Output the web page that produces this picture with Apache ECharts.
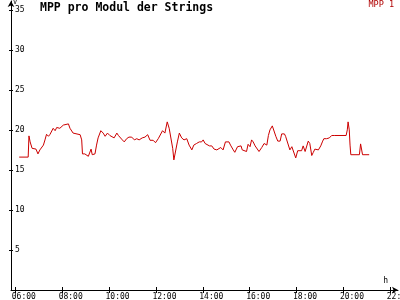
<!DOCTYPE html>
<html>
<head>
<meta charset="utf-8">
<style>html,body{margin:0;padding:0;background:#fff}#c{width:400px;height:300px}</style>
<script src="https://cdn.jsdelivr.net/npm/echarts@6/dist/echarts.min.js"></script>
</head>
<body>
<div id="c"></div>
<script>
const times = ["06:10","06:33","06:35","06:38","06:43","06:53","06:58","07:03","07:12","07:16","07:20","07:25","07:29","07:37","07:42","07:46","07:54","08:03","08:07","08:16","08:20","08:24","08:28","08:33","08:46","08:50","08:52","08:58","09:07","09:14","09:17","09:24","09:28","09:32","09:39","09:45","09:50","09:56","10:02","10:07","10:13","10:20","10:24","10:28","10:34","10:39","10:45","10:51","10:58","11:05","11:11","11:17","11:25","11:32","11:39","11:45","11:53","11:59","12:06","12:10","12:17","12:23","12:29","12:34","12:39","12:43","12:46","12:51","12:55","13:00","13:06","13:12","13:19","13:25","13:32","13:37","13:44","13:51","13:57","14:01","14:06","14:10","14:17","14:23","14:29","14:36","14:40","14:46","14:52","14:58","15:03","15:07","15:11","15:18","15:22","15:29","15:33","15:38","15:41","15:46","15:52","15:56","16:01","16:05","16:09","16:14","16:18","16:24","16:31","16:37","16:44","16:48","16:52","16:58","17:03","17:07","17:12","17:18","17:22","17:29","17:32","17:37","17:43","17:48","17:52","17:58","18:03","18:13","18:17","18:22","18:26","18:30","18:34","18:39","18:43","18:47","18:52","18:56","19:02","19:07","19:10","19:17","19:24","19:30","19:38","20:07","20:10","20:12","20:15","20:17","20:19","20:41","20:44","20:47","20:49","21:06"];
const mpp1 = [16.6,16.6,19.25,18.5,17.7,17.6,17.0,17.5,18.1,18.75,19.45,19.2,19.45,20.2,19.9,20.3,20.2,20.6,20.4,20.75,20.2,20.0,19.6,19.4,19.4,18.75,17.0,17.0,16.7,17.6,16.9,17.0,18.1,19.0,19.9,19.6,19.2,19.6,19.3,19.5,19.0,19.6,19.3,19.2,18.75,18.5,18.9,19.1,19.1,18.75,18.9,18.75,19.0,19.1,19.4,18.7,18.7,18.4,18.9,19.0,19.9,19.6,21.0,20.2,20.0,17.7,16.25,16.25,18.5,19.6,19.0,18.75,18.9,18.1,17.5,18.1,18.3,18.5,18.5,18.75,18.3,18.1,18.0,18.0,17.6,17.5,17.3,17.8,17.5,18.5,18.3,18.5,18.1,17.5,17.2,17.9,17.7,18.0,17.5,17.3,17.3,18.2,17.9,18.75,18.5,18.0,18.1,17.3,17.8,18.3,18.1,19.3,20.0,20.5,20.4,19.2,18.6,18.6,19.5,19.5,19.2,19.0,17.5,17.9,18.1,16.5,17.4,17.4,18.0,17.3,17.5,18.6,18.3,16.8,17.2,17.6,17.8,17.5,18.0,18.6,18.9,18.9,19.0,19.3,19.3,19.3,20.0,21.0,20.0,18.1,16.9,16.9,18.25,18.1,16.9,16.9];
const xTicks = [6,8,10,12,14,16,18,20,22];
const yTicks = [5,10,15,20,25,30,35];
const seriesName = "MPP 1";
const titleText = "MPP pro Modul der Strings";

const toH = t => { const p = t.split(':'); return +p[0] + (+p[1]) / 60; };
const data = times.map((t, i) => [toH(t), mpp1[i]]);
const XMIN = 5.817, XMAX = 22.33, LSHIFT = 0.15;
const FONT = 'DejaVu Sans Mono';
const pad = n => (n < 10 ? '0' : '') + n;

const chart = echarts.init(document.getElementById('c'), null, {renderer: 'canvas'});
chart.setOption({
  backgroundColor: '#ffffff',
  animation: false,
  title: {
    text: titleText, left: 40, top: 2, padding: 0,
    textStyle: {fontFamily: FONT, fontWeight: 'bold', fontSize: 11.5, color: '#000'}
  },
  legend: {
    data: [seriesName], right: 6, top: 0, padding: 0, itemWidth: 0, itemHeight: 0, icon: 'none',
    textStyle: {fontFamily: FONT, fontSize: 8.5, color: '#b00000', padding: [0,0,0,-5]}
  },
  grid: {left: 11, right: 2, top: 1, bottom: 10, containLabel: false, outerBoundsMode: 'none'},
  xAxis: [{
    type: 'value', min: XMIN, max: XMAX, position: 'bottom',
    name: 'h', nameLocation: 'end', nameGap: -10,
    nameTextStyle: {fontFamily: FONT, fontSize: 8, color: '#000', align: 'right', verticalAlign: 'bottom', padding: [0,0,5,0]},
    axisLine: {show: true, lineStyle: {color: '#000', width: 1}, symbol: ['none', 'arrow'], symbolSize: [5, 6]},
    axisTick: {show: true, length: 3, customValues: xTicks, lineStyle: {color: '#000'}},
    axisLabel: {
      show: true, customValues: xTicks.map(v => v - LSHIFT), align: 'left', margin: 3,
      fontFamily: FONT, fontSize: 8, color: '#000',
      formatter: v => pad(Math.round(v + LSHIFT)) + ':00'
    },
    splitLine: {show: false}
  }, {
    type: 'value', min: XMIN, max: XMAX, position: 'bottom',
    axisLine: {show: false},
    axisTick: {show: true, inside: true, length: 3, customValues: xTicks, lineStyle: {color: '#000'}},
    axisLabel: {show: false},
    splitLine: {show: false}
  }],
  yAxis: [{
    type: 'value', min: 0, max: 36.1, position: 'left',
    name: 'V', nameLocation: 'end', nameGap: -1,
    nameTextStyle: {fontFamily: FONT, fontSize: 7, color: '#000', align: 'left', verticalAlign: 'top', padding: [0,0,0,2]},
    axisLine: {show: true, lineStyle: {color: '#000', width: 1}, symbol: ['none', 'arrow'], symbolSize: [5, 6]},
    axisTick: {show: true, length: 2, customValues: yTicks, lineStyle: {color: '#000'}},
    axisLabel: {show: true, inside: true, customValues: yTicks, margin: 4, fontFamily: FONT, fontSize: 8, color: '#000'},
    splitLine: {show: false}
  }, {
    type: 'value', min: 0, max: 36.1, position: 'left',
    axisLine: {show: false},
    axisTick: {show: true, inside: true, length: 2, customValues: yTicks, lineStyle: {color: '#000'}},
    axisLabel: {show: false},
    splitLine: {show: false}
  }],
  series: [{
    name: seriesName, type: 'line', xAxisIndex: 0, yAxisIndex: 0, data: data,
    showSymbol: false, symbol: 'none',
    lineStyle: {color: '#cc0000', width: 1}, itemStyle: {color: '#cc0000'}
  }]
});
</script>
</body>
</html>
